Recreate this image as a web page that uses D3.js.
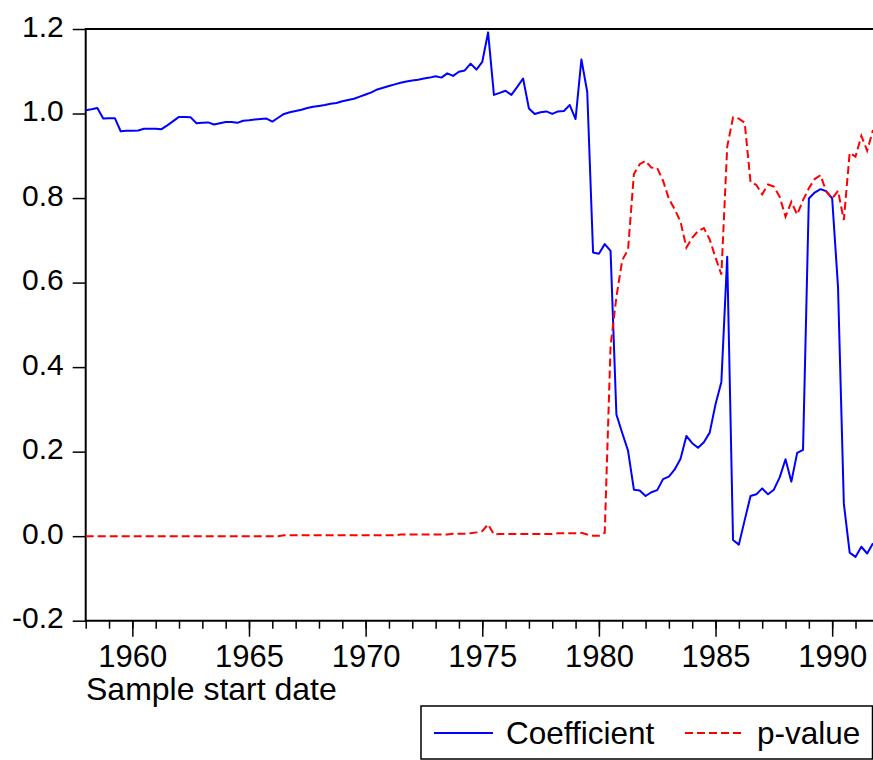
<!DOCTYPE html>
<html>
<head>
<meta charset="utf-8">
<script src="https://cdn.jsdelivr.net/npm/d3@7"></script>
<style>
  html, body { margin: 0; padding: 0; background: #fff; }
  svg { display: block; }
  text { font-family: "Liberation Sans", Arial, sans-serif; fill: #000; }
</style>
</head>
<body>
<svg id="chart" width="873" height="760"></svg>
<script>
// ---- data (quarterly, 1958Q1 .. 1991Q4) ----
const startYear = 1958;
const coefficient = [
  1.008, 1.010, 1.013, 0.988, 0.989, 0.989, 0.958, 0.959, 0.959, 0.960,
  0.964, 0.964, 0.964, 0.963, 0.972, 0.982, 0.992, 0.992, 0.991, 0.977,
  0.978, 0.979, 0.974, 0.977, 0.980, 0.980, 0.978, 0.983, 0.984, 0.986,
  0.987, 0.988, 0.981, 0.990, 0.999, 1.003, 1.006, 1.009, 1.013, 1.016,
  1.018, 1.020, 1.023, 1.025, 1.029, 1.032, 1.035, 1.040, 1.045, 1.050,
  1.057, 1.061, 1.065, 1.069, 1.073, 1.076, 1.078, 1.080, 1.083, 1.085,
  1.088, 1.085, 1.095, 1.089, 1.099, 1.102, 1.118, 1.104, 1.122, 1.192,
  1.044, 1.049, 1.054, 1.044, 1.063, 1.083, 1.012, 0.999, 1.003, 1.005,
  0.999, 1.005, 1.006, 1.020, 0.987, 1.128, 1.051, 0.671, 0.668, 0.691,
  0.675, 0.288, 0.244, 0.202, 0.110, 0.108, 0.095, 0.104, 0.109, 0.135,
  0.141, 0.158, 0.183, 0.237, 0.220, 0.209, 0.222, 0.245, 0.312, 0.365,
  0.661, -0.009, -0.020, 0.038, 0.095, 0.099, 0.113, 0.099, 0.110, 0.139,
  0.182, 0.129, 0.197, 0.204, 0.799, 0.813, 0.821, 0.816, 0.799, 0.590,
  0.077, -0.039, -0.049, -0.025, -0.041, -0.017
];
const pValue = [
  0.000, 0.000, 0.000, 0.000, 0.000, 0.000, 0.000, 0.000, 0.000, 0.000,
  0.000, 0.000, 0.000, 0.000, 0.000, 0.000, 0.000, 0.000, 0.000, 0.000,
  0.000, 0.000, 0.000, 0.000, 0.000, 0.000, 0.000, 0.000, 0.000, 0.000,
  0.000, 0.000, 0.000, 0.000, 0.002, 0.002, 0.002, 0.002, 0.002, 0.002,
  0.002, 0.002, 0.002, 0.002, 0.002, 0.002, 0.002, 0.002, 0.002, 0.002,
  0.002, 0.002, 0.002, 0.002, 0.004, 0.004, 0.004, 0.004, 0.004, 0.004,
  0.004, 0.004, 0.004, 0.006, 0.006, 0.006, 0.007, 0.009, 0.012, 0.028,
  0.004, 0.005, 0.005, 0.005, 0.005, 0.005, 0.005, 0.005, 0.005, 0.005,
  0.005, 0.007, 0.007, 0.007, 0.007, 0.008, 0.004, 0.001, 0.001, 0.008,
  0.450, 0.566, 0.653, 0.678, 0.857, 0.880, 0.888, 0.872, 0.871, 0.841,
  0.798, 0.773, 0.744, 0.683, 0.706, 0.722, 0.729, 0.702, 0.659, 0.619,
  0.921, 0.991, 0.988, 0.978, 0.838, 0.831, 0.809, 0.832, 0.827, 0.803,
  0.756, 0.791, 0.761, 0.795, 0.823, 0.845, 0.854, 0.815, 0.799, 0.817,
  0.748, 0.907, 0.898, 0.947, 0.912, 0.961
];
const yTicks = [-0.2, 0.0, 0.2, 0.4, 0.6, 0.8, 1.0, 1.2];
const xMajorTicks = [1960, 1965, 1970, 1975, 1980, 1985, 1990];
const xMinorTicks = d3.range(1958, 1992);
const seriesNames = ["Coefficient", "p-value"];
const xTitle = "Sample start date";

// ---- layout ----
const plotLeft = 85.7, plotRight = 873, plotTop = 29, plotBottom = 620.7;
const svg = d3.select("#chart");

const dates = coefficient.map((_, i) => startYear + i / 4);
const x = d3.scaleLinear().domain([startYear, dates[dates.length - 1]]).range([plotLeft, plotRight]);
const y = d3.scaleLinear().domain([-0.2, 1.2]).range([plotBottom, plotTop]);

// frame
svg.append("path")
  .attr("d", `M${plotRight + 2},${plotTop}H${plotLeft}V${plotBottom}H${plotRight + 2}`)
  .attr("fill", "none").attr("stroke", "#000").attr("stroke-width", 2);

// y axis
const yAxis = d3.axisLeft(y).tickValues(yTicks).tickSize(13).tickPadding(9)
  .tickFormat(d => d3.format(".1f")(d).replace("\u2212", "-"));
const gy = svg.append("g").attr("transform", `translate(${plotLeft},0)`).call(yAxis);
gy.select(".domain").remove();
gy.selectAll(".tick line").attr("stroke", "#000").attr("stroke-width", 1.5);
gy.selectAll(".tick text")
  .attr("dy", 7)
  .style("font-size", "30px")
  .style("font-family", '"Liberation Sans", Arial, sans-serif')
  .attr("fill", "#000");

// x axis minor ticks
const gxMinor = svg.append("g").attr("transform", `translate(0,${plotBottom})`)
  .call(d3.axisBottom(x).tickValues(xMinorTicks).tickSize(8).tickFormat(""));
gxMinor.select(".domain").remove();
gxMinor.selectAll(".tick line").attr("stroke", "#000").attr("stroke-width", 1.5);

// x axis major ticks
const gx = svg.append("g").attr("transform", `translate(0,${plotBottom})`)
  .call(d3.axisBottom(x).tickValues(xMajorTicks).tickSize(16).tickFormat(d3.format("d")));
gx.select(".domain").remove();
gx.selectAll(".tick line").attr("stroke", "#000").attr("stroke-width", 1.5);
gx.selectAll(".tick text")
  .attr("y", 46).attr("dy", 0)
  .style("font-size", "31px")
  .style("font-family", '"Liberation Sans", Arial, sans-serif')
  .attr("fill", "#000");

// x title
svg.append("text").attr("x", 86).attr("y", 700)
  .style("font-size", "32px").text(xTitle);

// lines
const line = d3.line().x((d, i) => x(dates[i])).y(d => y(d));
svg.append("path").datum(coefficient)
  .attr("d", line).attr("fill", "none")
  .attr("stroke", "#0000ff").attr("stroke-width", 2).attr("stroke-linejoin", "round");
svg.append("path").datum(pValue)
  .attr("d", line).attr("fill", "none")
  .attr("stroke", "#ff0000").attr("stroke-width", 2).attr("stroke-dasharray", "8,4");

// legend
const lg = svg.append("g");
lg.append("rect").attr("x", 421).attr("y", 706).attr("width", 451.5).attr("height", 53)
  .attr("fill", "#fff").attr("stroke", "#000").attr("stroke-width", 1.5);
lg.append("line").attr("x1", 434).attr("x2", 493).attr("y1", 733).attr("y2", 733)
  .attr("stroke", "#0000ff").attr("stroke-width", 2);
lg.append("text").attr("x", 506).attr("y", 744).style("font-size", "31.5px").text(seriesNames[0]);
lg.append("line").attr("x1", 685).attr("x2", 743).attr("y1", 733).attr("y2", 733)
  .attr("stroke", "#ff0000").attr("stroke-width", 2).attr("stroke-dasharray", "8,4");
lg.append("text").attr("x", 757).attr("y", 744).style("font-size", "31.5px").text(seriesNames[1]);
</script>
</body>
</html>
